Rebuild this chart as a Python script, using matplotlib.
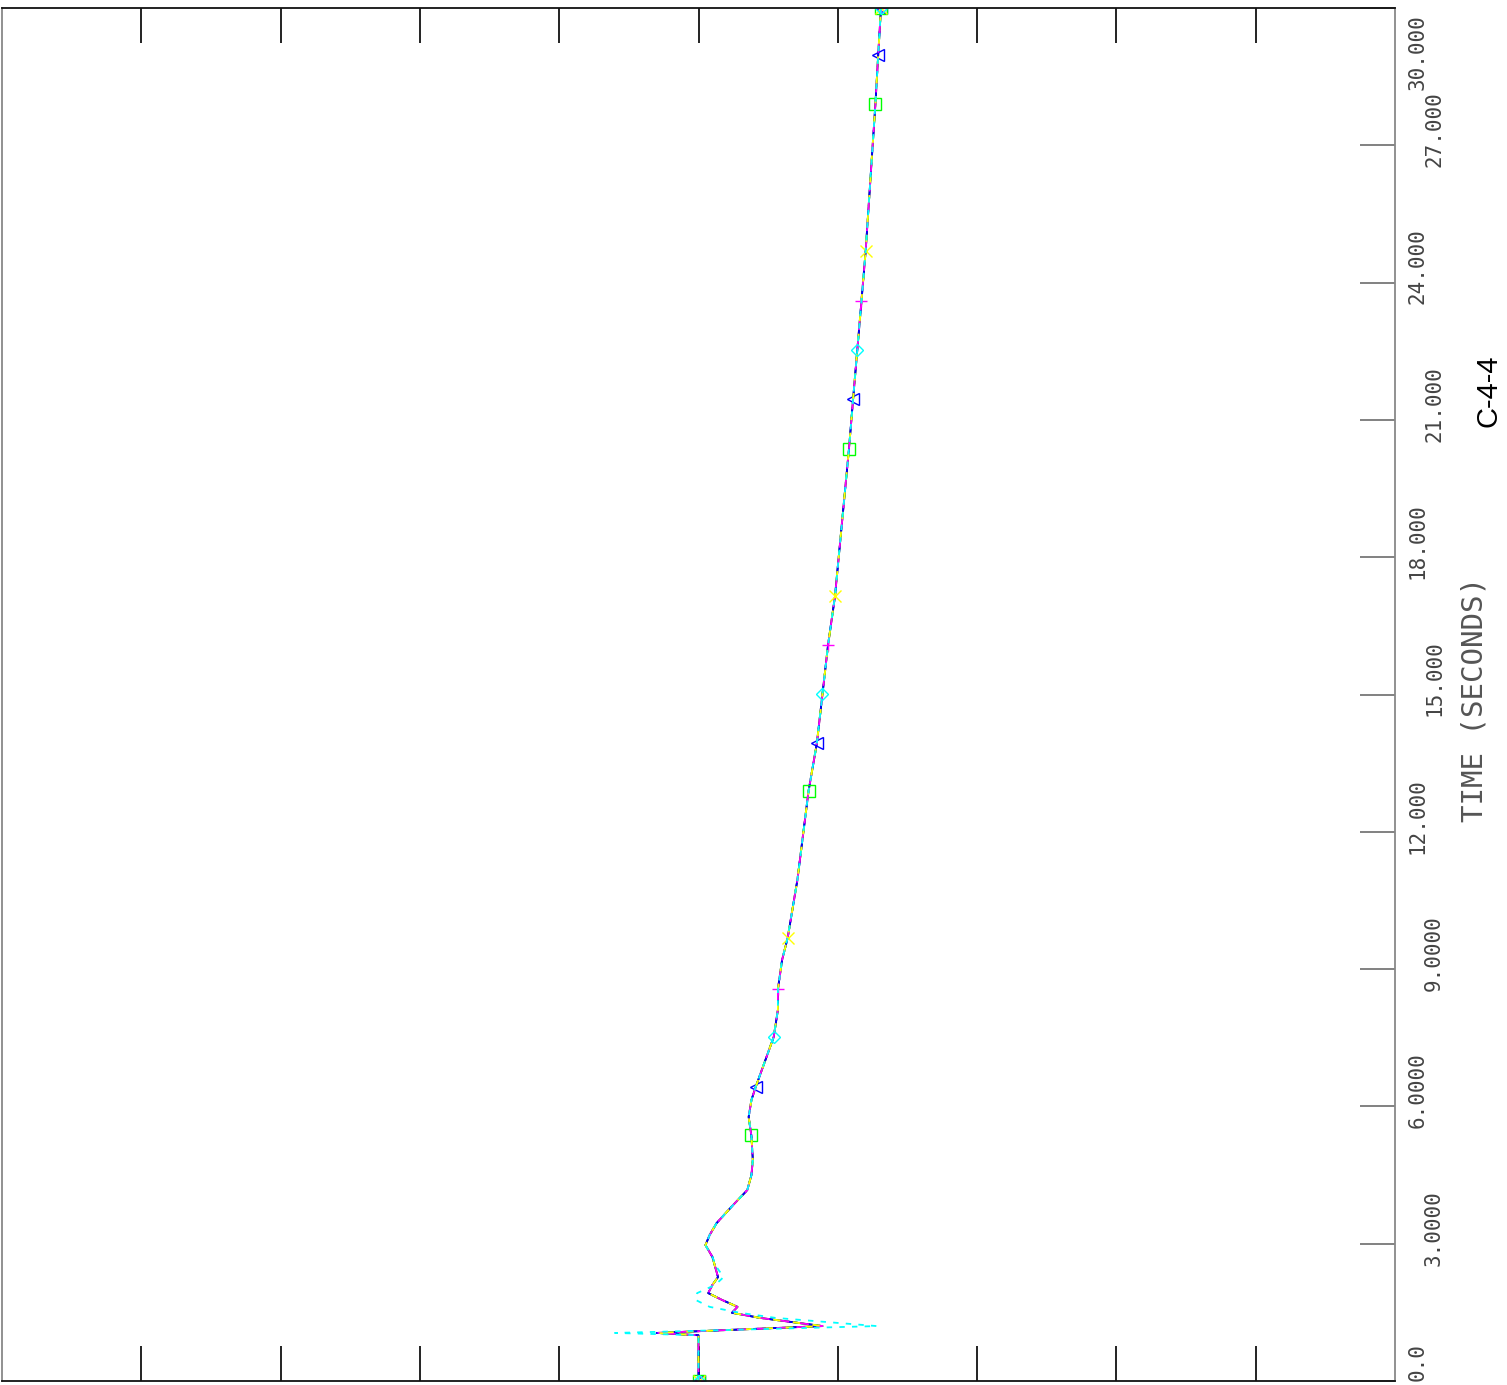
import numpy as np
import matplotlib
matplotlib.use("Agg")
from matplotlib import pyplot as plt

# time (seconds) along the vertical axis, response in arbitrary units (0..10 across the frame)
time = [0.0, 1.0, 1.05, 1.20, 1.38, 1.49, 1.62, 1.77, 1.92, 2.10, 2.27, 2.49, 2.71,
        2.97, 3.19, 3.45, 3.85, 4.17, 4.50, 4.83, 5.35, 5.77, 6.14, 6.42, 7.01,
        7.52, 8.11, 8.56, 9.20, 9.68, 10.95, 12.89, 13.94, 15.01, 16.08, 17.15,
        20.36, 21.46, 22.53, 23.60, 24.69, 27.90, 28.97, 30.0]
response = [5.00, 5.00, 4.70, 5.89, 5.44, 5.24, 5.28, 5.17, 5.07, 5.10, 5.14, 5.12, 5.10,
            5.05, 5.08, 5.13, 5.25, 5.35, 5.38, 5.39, 5.38, 5.36, 5.38, 5.41, 5.48,
            5.54, 5.57, 5.57, 5.60, 5.64, 5.71, 5.79, 5.85, 5.89, 5.93, 5.98,
            6.08, 6.11, 6.14, 6.17, 6.20, 6.27, 6.29, 6.31]
# the cyan run swings wider during the first second
response_cyan = [5.00, 5.00, 4.40, 6.28, 5.55, 5.30, 5.08, 4.98, 4.99, 5.12, 5.18, 5.13, 5.10,
                 5.05, 5.08, 5.13, 5.25, 5.35, 5.38, 5.39, 5.38, 5.36, 5.38, 5.41, 5.48,
                 5.54, 5.57, 5.57, 5.60, 5.64, 5.71, 5.79, 5.85, 5.89, 5.93, 5.98,
                 6.08, 6.11, 6.14, 6.17, 6.20, 6.27, 6.29, 6.31]

# times where each run carries its symbol
square_times = [0.0, 5.37, 12.89, 20.36, 27.90, 30.0]
triangle_times = [0.0, 6.42, 13.94, 21.46, 28.97, 30.0]
diamond_times = [0.0, 7.52, 15.01, 22.53, 30.0]
plus_times = [0.0, 8.56, 16.08, 23.60, 30.0]
cross_times = [0.0, 9.68, 17.15, 24.69, 30.0]

time_ticks = [0, 3, 6, 9, 12, 15, 18, 21, 24, 27, 30]
time_labels = ["0.0", "3.0000", "6.0000", "9.0000", "12.000", "15.000",
               "18.000", "21.000", "24.000", "27.000", "30.000"]
value_ticks = [1, 2, 3, 4, 5, 6, 7, 8, 9]

fig = plt.figure(figsize=(15.07, 13.85), dpi=100)
ax = fig.add_axes([2 / 1507, 4 / 1385, 1393 / 1507, 1373 / 1385])
ax.set_xlim(0, 10)
ax.set_ylim(0, 30)

series = [
    (response, "#000000", "-", None, None),
    (response, "#0000ff", (0, (6, 5)), "<", triangle_times),
    (response, "#00ff00", (3, (5, 6)), "s", square_times),
    (response, "#ff00ff", (6, (6, 5)), "+", plus_times),
    (response, "#ffff00", (1, (4, 7)), "x", cross_times),
    (response_cyan, "#00ffff", (0, (3, 4)), "D", diamond_times),
]

for values, color, style, marker, mtimes in series:
    ax.plot(values, time, color=color, ls=style, lw=1.3)
    if marker is not None:
        mt = np.array(mtimes)
        mv = np.interp(mt, time, values)
        ms = 6 if marker == "D" else 8
        ax.plot(mv, mt, ls="none", marker=marker, ms=ms, mfc="none",
                mec=color, mew=1.0)

# frame and ticks
for side in ["top", "bottom"]:
    ax.spines[side].set_color("#111111")
for side in ["left", "right"]:
    ax.spines[side].set_color("#888888")
for s in ax.spines.values():
    s.set_linewidth(1.3)

ax.set_xticks(value_ticks)
ax.tick_params(axis="x", top=True, bottom=True, direction="in", length=25,
               width=1.3, color="#111111", labelbottom=False, labeltop=False)
ax.yaxis.tick_right()
ax.set_yticks(time_ticks)
ax.tick_params(axis="y", right=True, left=False, direction="in", length=25,
               width=1.3, color="#777777", labelright=False, labelleft=False)

# staggered, rotated time labels on the right
for i, (tv, lab) in enumerate(zip(time_ticks, time_labels)):
    xpos = 1.0165 if i % 2 == 0 else 1.028
    ypos = min(max(tv + 0.35, 0.41), 29.04)
    ax.text(xpos, ypos, lab, transform=ax.get_yaxis_transform(), rotation=90,
            ha="center", va="center", fontsize=15, family="DejaVu Sans Mono",
            color="#444444", clip_on=False)

fig.text(1475 / 1507, 1 - 700 / 1385, "TIME (SECONDS)", rotation=90,
         ha="center", va="center", fontsize=21, family="DejaVu Sans Mono",
         color="#555555")
fig.text(1488 / 1507, 1 - 391 / 1385, "C-4-4", rotation=90, ha="center",
         va="center", fontsize=21, family="Liberation Sans", color="#000000")

fig.savefig("out.png", dpi=100)
